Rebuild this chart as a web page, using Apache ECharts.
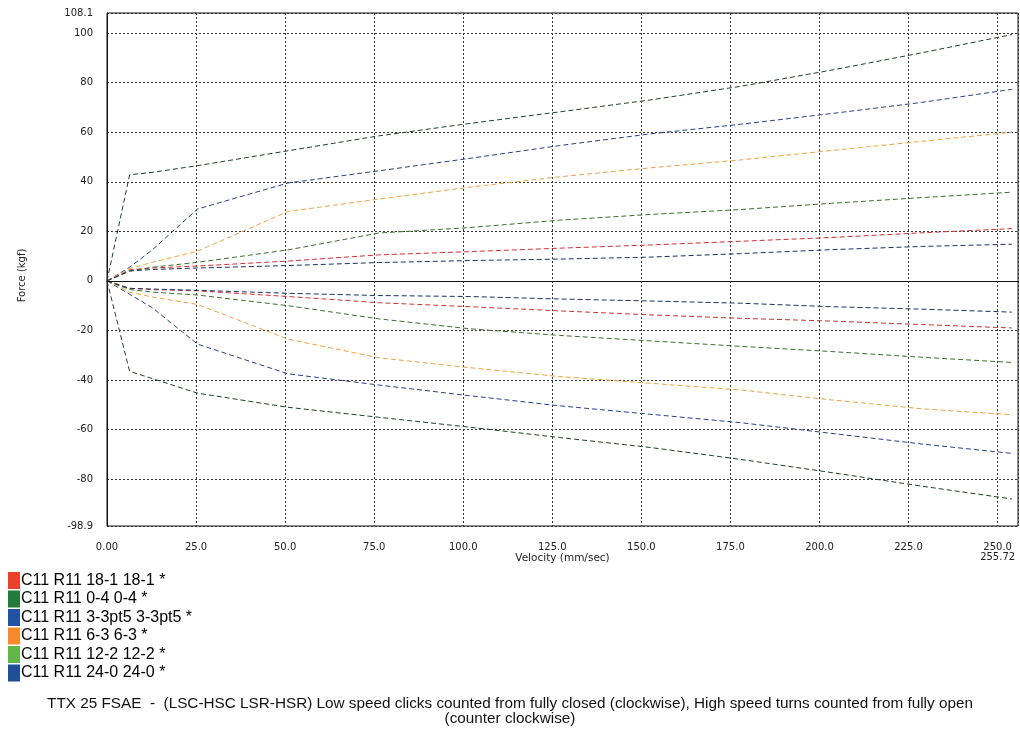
<!DOCTYPE html>
<html>
<head>
<meta charset="utf-8">
<script src="https://cdn.jsdelivr.net/npm/echarts@6/dist/echarts.min.js"></script>
<style>
    html, body { margin: 0; padding: 0; background: #fff; }
    #chart { width: 1020px; height: 729px; }
</style>
</head>
<body>
<div id="chart"></div>
<script>
// velocity points (mm/sec)
var velocity = [0, 6.35, 12.7, 25.4, 50.8, 76.2, 101.6, 127, 152.4, 177.8, 203.2, 228.6, 254];

// force (kgf), compression / rebound per setting
var comp_18_1 = [0, 4.5, 5.2, 6, 8, 10.5, 11.8, 13.2, 14.5, 16, 17.5, 19.4, 21.1];
var reb_18_1 = [0, -3, -3.5, -4, -6.3, -8.8, -10.4, -12.1, -13.7, -15.1, -16.2, -17.6, -19];
var comp_0_4 = [0, 42.8, 43.8, 46.5, 52.5, 58.5, 63.5, 68.2, 73, 78.5, 85, 92, 99.4];
var reb_0_4 = [0, -36.5, -39.4, -45.3, -51, -55, -59, -63.2, -67.2, -72, -77.3, -82.8, -88];
var comp_3_3pt5 = [0, 5.5, 12.5, 29, 39.5, 44.4, 49.4, 54.6, 59.3, 63.2, 67.5, 72, 77.3];
var reb_3_3pt5 = [0, -5.4, -10.8, -25.5, -37.5, -42, -46.3, -50.4, -53.8, -57.2, -61.5, -65.8, -69.6];
var comp_6_3 = [0, 5, 7.5, 12, 28, 33, 37.8, 42, 45.6, 48.8, 52.6, 56.3, 60];
var reb_6_3 = [0, -4.5, -6.5, -9.5, -23.5, -31, -35, -38.6, -41.3, -44, -48, -51.6, -54];
var comp_12_2 = [0, 4, 5.5, 7.5, 12.5, 19.3, 21.5, 24.5, 26.8, 28.8, 31.3, 33.6, 35.8];
var reb_12_2 = [0, -3.5, -4.5, -5.7, -10, -15.3, -19.3, -22, -24.2, -26.4, -28.5, -30.8, -32.9];
var comp_24_0 = [0, 4, 4.6, 5.2, 6.2, 7.4, 8.2, 8.8, 9.6, 11, 12.6, 13.9, 14.8];
var reb_24_0 = [0, -3, -3.3, -3.8, -5, -5.9, -6.3, -7.3, -8.1, -9, -10.4, -11.4, -12.6];

var names = ['C11 R11 18-1 18-1 *', 'C11 R11 0-4 0-4 *', 'C11 R11 3-3pt5 3-3pt5 *',
    'C11 R11 6-3 6-3 *', 'C11 R11 12-2 12-2 *', 'C11 R11 24-0 24-0 *'];
var compData = [comp_18_1, comp_0_4, comp_3_3pt5, comp_6_3, comp_12_2, comp_24_0];
var rebData = [reb_18_1, reb_0_4, reb_3_3pt5, reb_6_3, reb_12_2, reb_24_0];
var lineColors = ['#c8323a', '#22402a', '#2c3f8c', '#f0a045', '#3f6e30', '#1e2f5c'];
var swatchColors = ['#e9412d', '#237a3a', '#2152a4', '#f5892b', '#61b649', '#1f4f97'];

// axis ticks
var yTicks = [-98.9, -80, -60, -40, -20, 0, 20, 40, 60, 80, 100, 108.1];
var xMax = 255.72;

var chartDom = document.getElementById('chart');
var myChart = echarts.init(chartDom);

function pairs(ys) {
    return ys.map(function (y, i) {
        return [velocity[i], y];
    });
}

var series = [];
names.forEach(function (n, k) {
    [compData[k], rebData[k]].forEach(function (ys) {
        series.push({
            name: n,
            type: 'line',
            symbol: 'none',
            data: pairs(ys),
            color: lineColors[k],
            lineStyle: { width: 1, type: [5, 3], color: lineColors[k] },
            emphasis: { disabled: true }
        });
    });
});
// zero line
series[0].markLine = {
    silent: true,
    symbol: 'none',
    label: { show: false },
    lineStyle: { color: '#111', width: 1, type: 'solid' },
    data: [{ yAxis: 0 }]
};

var tickFont = { fontFamily: 'DejaVu Sans', fontSize: 10, color: '#222' };

var option = {
    animation: false,
    textStyle: { fontFamily: 'Liberation Sans' },
    title: {
        text: 'TTX 25 FSAE  -  (LSC-HSC LSR-HSR) Low speed clicks counted from fully closed (clockwise), High speed turns counted from fully open\n(counter clockwise)',
        left: 'center',
        top: 697,
        padding: 0,
        textStyle: { fontFamily: 'Liberation Sans', fontSize: 15.3, fontWeight: 'normal', color: '#111', lineHeight: 14.5, align: 'center' }
    },
    legend: {
        orient: 'vertical',
        left: 8,
        top: 572,
        padding: 0,
        itemWidth: 12,
        itemHeight: 17,
        itemGap: 1.5,
        icon: 'rect',
        selectedMode: false,
        textStyle: { fontFamily: 'Liberation Sans', fontSize: 16, color: '#000', lineHeight: 17, padding: [0, 0, 0, -4] },
        data: names.map(function (n, k) {
            return { name: n, itemStyle: { color: swatchColors[k] } };
        })
    },
    grid: {
        left: 107,
        right: 2,
        top: 13,
        bottom: 203,
        show: true,
        borderColor: '#111',
        borderWidth: 1
    },
    xAxis: {
        type: 'value',
        min: 0,
        max: xMax,
        interval: 25,
        name: 'Velocity (mm/sec)',
        nameLocation: 'middle',
        nameGap: 27,
        nameMoveOverlap: false,
        nameTextStyle: { fontFamily: 'DejaVu Sans', fontSize: 10.5, color: '#222' },
        axisLine: { lineStyle: { color: '#111' } },
        axisTick: { show: false },
        axisLabel: Object.assign({
            margin: 16,
            showMaxLabel: false,
            lineHeight: 10,
            formatter: function (v) {
                if (v === 0) return '0.00';
                if (v === 250) return '250.0\n' + xMax;
                return v.toFixed(1);
            }
        }, tickFont),
        splitLine: { show: true, lineStyle: { color: '#333', type: [2, 2], width: 1 } }
    },
    yAxis: {
        type: 'value',
        min: -98.9,
        max: 108.1,
        name: 'Force (kgf)',
        nameLocation: 'middle',
        nameGap: 80,
        nameMoveOverlap: false,
        nameTextStyle: { fontFamily: 'DejaVu Sans', fontSize: 10, color: '#222', padding: [0, 12, 0, 0] },
        axisLine: { show: true, lineStyle: { color: '#111' } },
        axisTick: { show: false, customValues: yTicks },
        axisLabel: Object.assign({
            margin: 14,
            customValues: yTicks,
            formatter: function (v) { return String(v); }
        }, tickFont),
        splitLine: { show: true, lineStyle: { color: '#333', type: [2, 2], width: 1 } }
    },
    series: series
};

option && myChart.setOption(option);
</script>
</body>
</html>
